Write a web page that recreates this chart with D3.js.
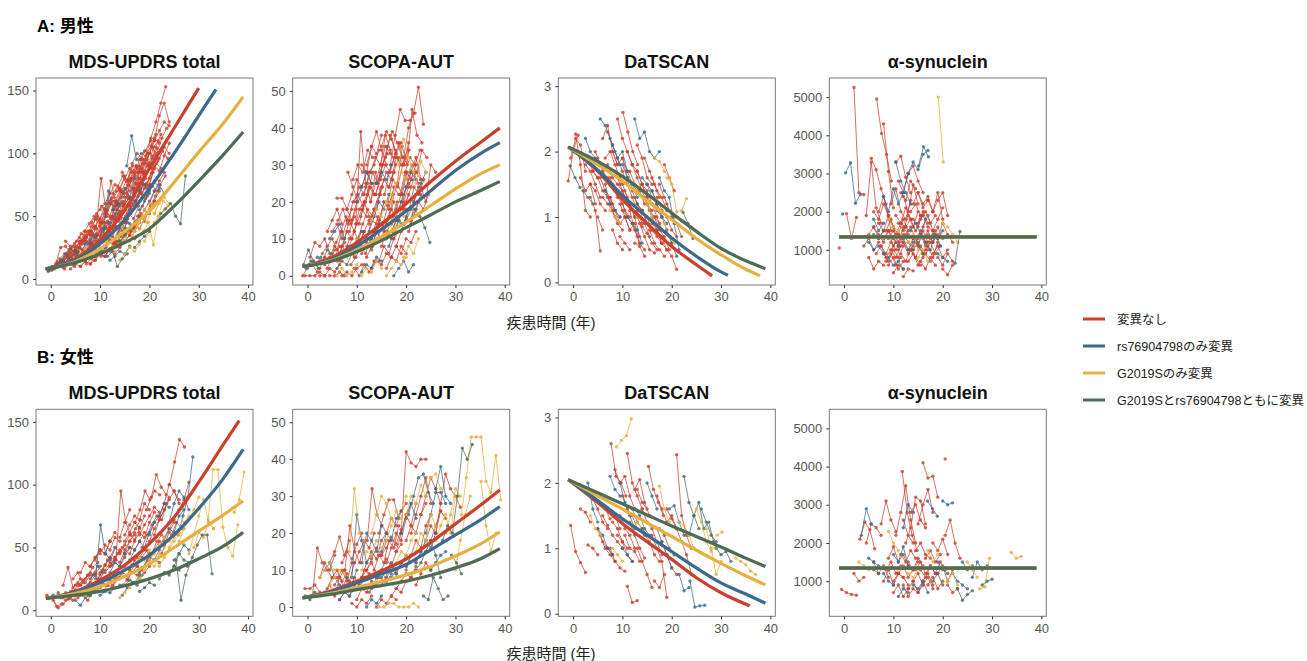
<!DOCTYPE html>
<html>
<head>
<meta charset="utf-8">
<script src="https://cdn.jsdelivr.net/npm/d3@7"></script>
<style>
body { margin: 0; background: #fff; font-family: "Liberation Sans", Arial, "Noto Sans CJK JP", sans-serif; }
.tick text { fill: #555; font-size: 13px; }
</style>
</head>
<body>
<div id="graphic"></div>
<script>
// groups and colours
const groups = ["変異なし", "rs76904798のみ変異", "G2019Sのみ変異", "G2019Sとrs76904798ともに変異"];
const colors = ["#c8412f", "#3a6b8e", "#e4b040", "#4e6b55"];
const measures = ["MDS-UPDRS total", "SCOPA-AUT", "DaTSCAN", "α-synuclein"];
const sexes = ["A: 男性", "B: 女性"];
const xLabel = "疾患時間 (年)";

const xTicks = [0, 10, 20, 30, 40];
const yTicks = [[0, 50, 100, 150], [0, 10, 20, 30, 40, 50], [0, 1, 2, 3], [1000, 2000, 3000, 4000, 5000]];

// one subject per row: [group, first visit (years), value at each yearly visit...]
const visitStep = 1;

const maleUpdrs = [
  [0,-0.8,8,10,12,15],[0,-0.5,6,9,11,14,18],[0,0.3,9,14,12,18,22,20],[0,1.0,12,25,26,20,24],
  [0,1.5,10,14,18,16,22,28],[0,2.2,15,20,18,26,30,34,38],[0,3.0,12,18,22,28,35,30,40],
  [0,3.5,20,26,22,30,38,36],[0,4.2,14,18,24,20,28,34,40],[0,5.0,25,30,38,35,42,48,55],
  [0,5.5,18,22,28,34,30,40,46,50],[0,6.3,20,30,28,36,44,50,48,60],[0,7.0,30,38,35,45,52,60,58],
  [0,7.5,22,28,35,32,40,48,55,62],[0,8.0,35,48,42,55,50,62,70],[0,8.6,25,30,38,45,40,52,60,66],
  [0,9.2,40,80,55,48,62,70,65,78],[0,9.8,28,35,32,42,50,58,64],[0,10.3,45,52,60,55,70,78,85,90],
  [0,10.8,32,40,48,46,58,64,72],[0,11.2,50,78,60,65,72,80,76,88],[0,11.9,38,45,52,60,58,70,80,85],
  [0,12.5,55,62,70,68,80,88,95],[0,13.0,42,50,48,58,66,75,82,90],[0,13.6,60,68,75,72,85,92,100,98],
  [0,14.2,48,55,65,62,72,80,90],[0,14.8,65,75,72,85,95,90,105,110],[0,15.5,52,60,70,78,74,88,96],
  [0,16.0,70,82,90,86,100,112,108],[0,16.7,58,66,75,72,85,94,102,96],[0,17.3,75,88,95,92,105,115],
  [0,18.0,62,72,80,90,86,98,108],[0,18.5,85,95,105,100,112,120],[0,17.0,70,80,92,100,110,130,140,125],
  [0,19.6,90,96,104],[0,19.3,98,112,125,140,153],[0,9.0,15,20,18,24,28,30],[0,12.0,22,28,26,34,38,42,48],
  [0,15.0,30,35,42,40,48,55],[0,6.0,10,14,12,18,22,26],[0,2.8,8,12,10,15,18],[0,11.0,18,24,30,28,36],
  [0,-0.3,7,8,10,13,16,20],[0,0.8,10,13,17,21,19,25],[0,1.8,16,20,24,22,30,33],[0,2.5,9,12,15,14,19,23,26],
  [0,3.8,22,28,33,30,38,42],[0,4.6,12,15,20,24,22,28],[0,5.2,30,36,33,42,48,45],[0,6.0,15,20,26,24,30,36],
  [0,6.8,38,44,50,47,56,62],[0,7.4,18,24,22,30,35,40],[0,8.3,45,52,58,54,64,70],[0,9.0,30,38,45,42,52,58,62],
  [0,10.0,55,60,68,75,72,82],[0,10.6,22,30,28,36,42,48],[0,11.6,60,68,74,82,78,90],
  [0,12.2,35,42,40,50,56,62,70],[0,13.3,28,34,40,38,46,52],[0,14.0,72,80,88,84,95,102],
  [0,15.2,45,52,60,68,64,75],[0,16.3,80,90,85,98,106,115],[0,17.0,40,48,55,52,62,70],
  [0,18.2,95,102,110,98],[0,19.0,55,62,70,78,85],[0,20.0,75,88,96,105,100],[0,21.0,110,118,125,122],
  [0,8.0,12,15,20,18,24],[0,13.0,20,25,30,35,32],[0,3.0,30,26,22,28,32],
  [0,4.0,8,12,10,14,18],[0,5.8,25,22,28,34,30],[0,7.2,12,16,20,18,25,30],[0,9.5,50,45,55,62,58],
  [0,11.5,28,34,30,38,45,42],[0,13.8,38,45,52,48,58],[0,14.5,85,78,92,100,96],[0,16.0,35,42,50,46,55,62],
  [0,17.6,50,58,66,74,70],[0,18.4,68,76,84,92,88],[0,20.2,58,66,75,82],[0,12.8,65,72,68,78,86],
  [0,10.0,35,42,38,48,54],[0,15.8,60,68,76,84,92],
  [1,-0.5,7,9,12,15],[1,1.5,10,12,16,14,20],[1,4.0,15,22,20,28,32],[1,7.0,20,28,34,30,40,45],
  [1,9.7,30,40,70,55,60],[1,11.0,25,35,32,40,48,44],[1,13.0,50,60,72,65,80],[1,15.0,40,55,62,70,75,68],
  [1,15.4,90,114,95,100],[1,18.0,55,62,70,78,72],[1,20.0,60,70,75,68],[1,12.0,15,18,22,20,26],
  [1,14.0,30,34,40,38,45],
  [2,4.0,12,16,20,24],[2,8.0,18,24,22,30,35],[2,10.5,25,30,36,34,42],[2,13.0,22,28,34,30,38,45],
  [2,15.0,30,40,38,48,55,60],[2,16.5,35,42,50,45,58],[2,18.0,40,48,56,52,62],[2,19.0,30,38,45,50,55],
  [2,18.8,38,45,27,50,62,58],[2,14.0,15,20,25,22,28],[2,21.0,52,60,65,60],
  [3,-0.8,8,7,9,12],[3,2.0,15,20,24,22],[3,9.0,18,22,26,30],[3,11.5,18,22,10,16,20],
  [3,17.0,25,30,34,38],[3,22.3,52,56,60,50,44,82],[3,14.0,30,35,40,45,50]
];

const maleScopa = [
  [0,-1.0,0,2,3,1],[0,-0.5,0,0,0,1,0],[0,0.5,5,9,8,10,6],[0,1.5,3,2,5,4,7],[0,2.5,0,0,2,1,3],
  [0,3.0,6,8,10,7,12],[0,4.0,2,5,4,8,6,10],[0,5.0,12,14,10,15,18],[0,6.0,21,21,18,15,20],
  [0,6.5,4,6,8,5,9,12],[0,7.5,10,15,12,18,20,16],[0,8.2,28,24,20,22,25],[0,9.0,6,9,12,10,15,14],
  [0,9.8,14,39,25,20,28,22],[0,10.5,8,12,15,18,14,20],[0,11.2,18,22,28,25,30,33],
  [0,12.0,5,8,12,10,14,18,15],[0,12.8,20,25,30,38,34,30],[0,13.5,12,15,20,18,24,22],
  [0,14.2,25,30,35,39,36,32],[0,15.0,8,12,10,16,20,18],[0,15.6,22,28,32,36,30,34],
  [0,16.2,15,20,25,22,28,26],[0,16.8,30,38,45,42,42,44],[0,17.5,10,15,18,22,20,24],
  [0,18.2,25,35,30,45,38,36],[0,19.0,18,24,28,32,26],[0,19.5,32,40,44,51,41],[0,20.5,12,16,20,18,22],
  [0,21.0,15,22,24,20,30,28],[0,13.0,2,4,3,6,5],[0,7.0,0,1,0,2,3],[0,17.0,5,8,6,10,9,12],
  [0,11.0,30,28,35,33,38],[0,4.5,0,0,1,0],[0,9.5,2,0,3,1,4],
  [0,5.5,5,8,6,10,12,9],[0,6.2,15,18,14,20,22,19],[0,7.0,8,12,10,14,18,16],[0,8.0,18,22,26,24,28,25],
  [0,8.8,3,5,8,6,10,12],[0,9.5,20,24,22,28,30,34],[0,10.2,10,14,18,16,20,24],[0,11.0,6,9,7,12,14,11],
  [0,11.8,24,28,32,30,35,33],[0,12.5,14,18,22,26,24,28],[0,13.2,8,10,14,12,16,20],
  [0,14.0,18,24,28,26,32,30],[0,14.8,28,32,38,34,30],[0,15.5,12,16,20,18,22,25],[0,16.3,20,26,24,30,34],
  [0,17.0,14,18,22,28,26,30],[0,18.0,8,12,16,14,18,22],[0,18.8,22,28,32,30,34],[0,19.6,14,18,24,22,26],
  [0,20.2,26,30,28,34,32],[0,12.0,30,35,39,34,30],[0,4.0,12,15,18,14],[0,15.0,35,39,37,33,36],
  [0,16.0,2,5,4,8,6],
  [0,3.5,3,5,8,6,9],[0,5.8,9,12,16,14,18],[0,8.5,12,16,14,20,24,22],[0,10.8,16,20,24,22,27],
  [0,12.3,8,12,16,14,19,22],[0,14.5,4,8,6,10,12],[0,16.5,24,28,32,30,36],[0,18.5,16,20,24,28,25],
  [0,20.0,20,24,28,26],[0,13.8,22,26,30,28,33],[0,9.2,26,30,28,34,32],
  [1,-0.3,2,4,3,5],[1,4.5,10,12,14,10],[1,7.0,5,8,6,10,12],[1,10.0,20,24,28,25],[1,12.5,12,16,20,18,22],
  [1,14.0,25,28,26,30],[1,16.5,8,12,15,14,18],[1,17.5,0,2,4,1,3],[1,19.0,20,24,28,26],
  [1,20.0,15,18,22,25,28],[1,11.0,1,3,2,5,4],
  [2,6.0,0,2,0,1,3],[2,8.0,5,8,10,7],[2,11.0,0,2,1,4,2],[2,13.0,15,18,16,20,22],[2,15.5,10,14,12,18,16],
  [2,17.0,20,25,28,26,30],[2,18.5,30,37,32,28],[2,19.5,5,8,6,10],[2,16.0,0,2,4,3,5],[2,22.0,25,31,28],
  [3,-0.8,3,7,4,2],[3,2.0,5,4,7,6],[3,12.0,8,10,12,14],[3,16.0,10,12,15,14],[3,20.8,15,18,16,13,9],
  [3,6.0,2,4,3,6]
];

const maleDat = [
  [0,-1.0,1.55,2.0,2.25],[0,-0.5,1.9,2.2,2.1,1.7],[0,0.5,2.27,1.8,1.1,1.0],[0,1.5,1.6,1.4,1.5,1.2],
  [0,2.5,1.8,1.7,1.5,1.3],[0,3.5,1.3,1.1,0.48],[0,4.5,2.0,1.8,1.6,1.5],[0,5.5,1.6,1.4,1.3,1.1,1.0],
  [0,6.0,2.2,2.4,2.0,1.8],[0,6.5,1.5,1.2,1.0,0.9],[0,7.0,2.3,2.1,1.9,1.7,1.5],[0,7.5,1.3,1.1,0.9,1.0,0.8],
  [0,8.0,2.0,1.8,1.9,1.6],[0,8.5,1.7,1.5,1.3,1.2,1.0],[0,9.0,2.5,2.2,2.0,1.8],[0,9.5,1.2,1.0,0.8,0.9,0.6],
  [0,10.0,1.9,1.7,1.5,1.4],[0,10.1,2.6,2.3,2.0,1.8],[0,11.0,1.5,1.3,1.1,0.9],[0,11.5,1.1,0.8,0.6,0.5],
  [0,12.0,1.8,1.6,1.4,1.2,1.1],[0,12.5,1.3,1.1,0.9,0.7],[0,13.0,2.1,1.9,1.6,1.5],[0,13.5,0.9,0.7,0.5,0.45],
  [0,14.0,1.5,1.3,1.2,1.0,0.8],[0,14.5,1.9,1.7,1.5,1.3],[0,15.0,1.2,1.0,0.8,0.6],[0,15.5,0.8,0.6,0.5,0.4],
  [0,16.0,1.6,1.4,1.3,1.1],[0,16.5,1.0,0.8,0.7,0.5],[0,17.0,1.3,1.1,1.0,0.8,0.7],[0,18.0,0.7,0.5,0.4,0.2],
  [0,18.5,1.8,1.6,1.4],[0,19.0,1.2,1.0,0.9,0.7],[0,8.0,0.8,0.6,0.5],[0,5.0,1.0,0.8],
  [0,3.0,1.9,1.7,1.6],[0,10.5,1.4,1.2,1.0,0.7],
  [0,4.0,1.7,1.6,1.4,1.3,1.2],[0,5.0,1.9,1.7,1.6,1.5],[0,6.0,1.3,1.2,1.1,0.9,0.8],[0,7.0,1.8,1.6,1.5,1.4,1.2],
  [0,8.0,1.5,1.3,1.2,1.0],[0,9.0,1.6,1.5,1.3,1.1,1.0],[0,10.0,1.1,1.0,0.9,0.7],[0,11.0,2.0,1.8,1.7,1.5,1.3],
  [0,12.0,1.4,1.2,1.1,0.9,0.8],[0,13.0,1.7,1.5,1.4,1.2],[0,14.0,1.1,1.0,0.8,0.7,0.6],[0,15.0,1.5,1.4,1.2,1.0],
  [0,16.0,0.9,0.8,0.6,0.5],[0,17.0,1.1,1.0,0.8,0.6],[0,9.5,0.7,0.6,0.5],[0,6.5,1.9,2.0,1.8,1.6],
  [0,12.5,0.6,0.55,0.4],[0,13.0,1.0,0.85,0.75,0.6,0.5],
  [0,3.5,1.5,1.4,1.2,1.1],[0,7.5,1.6,1.4,1.3,1.1,1.0],[0,11.5,1.7,1.5,1.4,1.2],[0,14.5,1.3,1.1,1.0,0.9],
  [0,17.5,1.5,1.3,1.1,1.0],
  [1,2.5,2.2,2.0,1.9],[1,5.5,2.5,2.4,2.2,2.0,1.8],[1,8.0,2.1,1.9,2.0,1.7],[1,10.0,1.8,1.6,1.5,1.3],
  [1,12.5,2.5,2.2,2.3,2.0,1.9,2.0],[1,14.0,1.6,1.5,1.3,1.2],[1,16.0,1.4,1.2,1.0,0.9],
  [1,17.5,1.6,1.4,1.3,0.9,0.5],[1,6.5,1.4,1.2,1.1,1.0],[1,19.0,0.8,0.6,0.4],[1,11.0,1.0,0.9,0.8,0.6],
  [2,7.5,1.1,1.0,0.9],[2,10.0,1.3,1.2,1.1,1.0],[2,16.5,1.9,1.85,1.7,1.6],[2,19.0,1.6,1.5,1.08,1.1,1.28],
  [2,13.0,1.4,1.3,1.2,1.0],[2,18.5,0.9,0.7,0.6],
  [3,-0.6,1.78,1.6,1.45],[3,2.0,1.4,1.3,1.2],[3,22.3,1.07,0.9,0.67],[3,13.0,1.2,1.1,0.9]
];

const maleSyn = [
  [0,-1.0,1050],[0,0.5,1950,1300,1850],[0,2.0,5250,2500,2450],[0,4.5,1900,3300,2100,1700],
  [0,5.5,3400,3100,2600,2200,1500],[0,6.6,4950,4050,3500,2800],[0,8.0,4300,3050,2100],
  [0,5.0,800,500,700,600],[0,6.0,1600,1400,1200,1500,1300],[0,7.0,2000,2400,1800,1600],
  [0,7.5,1100,900,1200,1000,1300],[0,8.5,1500,1800,1400,1700,1600],[0,9.0,600,800,500,700],
  [0,9.5,2200,2600,2000,1800,2300],[0,10.0,1300,1100,1400,1200,1000],[0,10.5,3300,3450,2900,2500],
  [0,11.0,1700,1500,1900,1600,2000],[0,11.5,900,700,1000,800,600],[0,12.0,2400,2000,2700,2200],
  [0,12.5,1400,1600,1300,1500,1200],[0,13.0,3000,3200,2800,2500],[0,13.5,1000,800,1100,900,700],
  [0,14.0,1800,1600,2000,1700],[0,14.5,1200,1400,1100,1300,1500],[0,15.0,2500,2200,2400,2000],
  [0,15.5,700,500,800,600],[0,16.0,1600,1900,1500,1800,2100],[0,16.5,1000,1200,900,1100],
  [0,17.0,2300,2000,2500,1800],[0,18.0,1500,1300,1700,1400,1200],[0,19.0,800,600,900,700],
  [0,20.0,500,350,600],[0,10.0,400,600,500],[0,12.0,300,500,450],[0,8.0,1300,1500,1100,1400],
  [0,5.0,1400,1600,1300,1500],[0,6.5,900,1100,800,1000,1200],[0,7.0,1700,1500,1900,1600],
  [0,8.5,700,900,600,800],[0,9.0,1300,1500,1200,1600,1400],[0,10.5,1900,1700,2100,1800],
  [0,11.0,1000,1200,900,1100,1300],[0,12.5,1600,1800,1500,1900],[0,13.0,700,900,600,800,1000],
  [0,14.0,1300,1100,1500,1200],[0,15.0,1700,1900,1600,1500],[0,16.0,900,1100,800,1200],
  [0,17.0,1400,1200,1600,1300],[0,18.0,2000,2300,2500,1900],[0,11.5,2500,2300,2800,2600],
  [0,9.5,1000,800,1100],[0,13.5,2000,2200,1900],
  [0,4.0,1100,1300,1000,1200],[0,6.0,2000,1800,2200,1900],[0,8.0,900,700,1000,800,1100],
  [0,10.0,1600,1400,1800,1500],[0,12.0,1200,1000,1300,1100,900],[0,14.0,2200,2500,2100,2300],
  [0,16.0,1300,1500,1200,1400],[0,18.0,900,1100,800,1000],[0,11.0,2800,2500,3000],
  [0,15.5,1800,2000,1700,1900],
  [1,-0.3,1940],[1,0.3,3020,3280,2220,2450],[1,5.0,1200,1000,1100,900],[1,8.0,2400,2000,2600,2200,2500],
  [1,10.5,3300,2800,2500,2200],[1,12.0,2500,3000,3300,3100,3500,3600],[1,13.5,1500,1700,1400,1800],
  [1,15.1,3200,3700,3440],[1,9.0,800,600,700,500],[1,11.0,1100,1300,1000,1200],
  [1,16.5,1200,1000,1400,1100],[1,18.0,1400,1300,1500],[1,19.0,900,800,700],[1,6.0,1800,1500,1700],
  [2,19.1,5000,3300],[2,9.0,1800,1600,1500],[2,13.0,1200,1400,1000],[2,20.0,1700,1600,1400,1200],
  [2,15.0,800,1000,700],
  [3,22.5,650,1480],[3,6.0,1400,1300,1500],[3,14.0,1000,1200,900]
];

const femaleUpdrs = [
  [0,-0.8,12,10,3,5],[0,0.5,8,2,5,9,8],[0,1.5,14,10,12,15],[0,2.5,20,34,18,22],[0,3.5,12,15,20,24,28],
  [0,4.5,25,30,22,28,34,38],[0,5.5,10,14,12,18,22],[0,6.0,30,38,35,42,48],[0,7.0,18,22,28,25,32,38],
  [0,8.0,35,42,48,45,55],[0,8.5,15,18,22,20,26,30],[0,9.5,25,32,40,36,45,50],[0,10.0,45,52,48,58,55],
  [0,11.0,30,35,42,38,48,55,60],[0,12.0,55,62,58,70,80],[0,12.5,20,25,30,28,36,42],
  [0,13.2,40,95,70,60,65,72],[0,14.0,35,42,50,48,55,62],[0,15.0,60,68,75,72,85,80],
  [0,15.5,25,30,35,32,40,45],[0,16.0,45,55,62,58,70,78],[0,17.1,70,80,95,88,95,92],
  [0,17.5,35,42,48,45,55,60],[0,18.5,50,60,68,75,72,85],[0,19.4,80,90,108,98,92],
  [0,20.0,40,48,55,52,62,70],[0,21.0,60,72,80,88,95,85],[0,22.0,75,85,100,95,88],
  [0,23.0,55,65,72,80,88,102],[0,24.1,100,118,136,130],[0,10.5,15,20,18,25,30],[0,6.5,12,8,15,18,20],
  [0,18.0,25,30,35,40,38],[0,22.5,45,55,60,70,65],[0,3.0,8,10,14,12],[0,14.5,20,24,30,28,34],
  [0,2.0,10,14,12,16,20],[0,4.0,15,20,25,22,28],[0,6.0,20,25,30,28,35],[0,8.0,25,30,28,36,42,40],
  [0,10.0,30,36,42,50,46],[0,12.0,35,42,48,45,55,62],[0,14.0,45,52,60,56,66],[0,16.0,30,36,42,48,45],
  [0,18.0,60,68,75,82,78],[0,20.0,55,65,72,80,90],[0,9.0,40,48,45,55],[0,13.0,25,30,35,32,40],
  [0,15.0,55,62,70,65,75],[0,11.0,20,24,28,26,32],
  [1,5.0,8,4,10,12],[1,7.5,20,28,35,30],[1,9.1,25,68,45,40,50],[1,12.0,30,38,35,45,50],
  [1,14.5,12,18,22,20,28],[1,16.0,40,48,55,50,62,70],[1,18.0,30,35,42,40,48],[1,20.0,60,70,75,85,82],
  [1,22.0,50,58,65,62,75,80],[1,24.0,70,85,95,90,80],[1,25.8,60,75,90,122],[1,10.0,12,15,14,18,20],
  [1,25.0,40,45,52,48],
  [2,5.0,10,14,12,16],[2,9.0,15,20,24,22,28],[2,12.0,22,28,25,32,38],[2,14.0,10,14,18,22,26],
  [2,16.0,30,36,42,40,48],[2,18.0,25,32,38,35,45,50],[2,20.0,40,45,52,58,55],[2,22.0,35,42,48,55,60,65],
  [2,24.0,50,58,62,70,75],[2,26.0,55,65,72,80,90],[2,28.0,45,60,75,88,70,65],
  [2,31.9,72,112,112,66,50,43,68],[2,37.2,78,88,110],[2,29.0,50,62,58,70,65],
  [3,-0.5,10,12,11],[3,8.0,12,15,18],[3,15.0,20,24,22,28],[3,22.0,25,30,28,35,32],
  [3,24.0,30,35,45,40,38],[3,25.4,40,8,28,38],[3,27.7,35,42,52,60,60,29],[3,18.0,15,18,22,20]
];

const femaleScopa = [
  [0,-0.5,5,5,6,4],[0,1.0,3,16,12,10,8],[0,2.5,8,12,10,14],[0,3.5,4,6,3,8,5],[0,4.5,12,15,19,14,18],
  [0,5.5,6,8,10,7,12],[0,6.5,2,4,3,6,5,8],[0,7.6,10,22,15,12,18],[0,8.5,5,8,6,10,9],
  [0,9.5,12,15,18,16,20],[0,10.0,2,5,4,7,6],[0,11.0,8,12,15,13,18,20],[0,12.1,18,32,25,22,20],
  [0,12.5,4,6,8,7,10],[0,13.5,10,14,12,18,16,22],[0,14.5,20,25,29,29,24],[0,15.0,6,8,10,9,12,14],
  [0,16.0,12,16,20,18,24,28],[0,17.0,3,5,4,7,8],[0,18.0,15,20,25,22,28],[0,19.0,20,42,39,38,40,40],
  [0,20.0,10,14,18,16,22,25],[0,21.0,20,25,30,35,28],[0,22.0,12,15,18,22,20,26],
  [0,23.0,25,30,35,32,28],[0,24.0,15,18,22,26,24],[0,26.0,20,28,36,32,30,27],[0,9.0,1,0,2,1,3],
  [0,14.0,0,2,1,3,2],[0,6.0,8,10,7,12],
  [0,4.0,5,8,10,7,9],[0,7.0,12,15,13,17,20],[0,10.0,5,8,10,12,9],[0,12.0,10,13,16,14,18],
  [0,14.0,8,10,13,11,15,17],[0,16.0,20,24,22,26,28],[0,18.0,5,7,9,8,11],[0,20.0,18,22,20,25,28],
  [0,22.0,6,9,12,10],[0,15.0,14,16,19,17,21],
  [1,3.5,10,12,8,6],[1,6.5,2,4,3,5],[1,9.0,8,25,18,12,14],[1,11.0,12,20,18,15,22],[1,13.0,5,8,10,7,9],
  [1,15.0,15,20,18,24,26],[1,17.0,8,10,12,11,14],[1,19.0,20,25,28,24],[1,20.5,25,30,35,36,31,28],
  [1,22.0,12,15,18,16,20],[1,24.0,20,25,31,31,28],[1,26.0,32,38,30,28],[1,12.0,0,2,1,3],
  [1,25.0,10,12,14,15],
  [2,2.5,8,10,12,10],[2,4.5,6,8,10,9],[2,8.5,15,32,20,18],[2,11.0,10,15,14,18,16],
  [2,13.0,20,25,30,28,24],[2,14.5,0,0,1,1,0,0,0,1,0],[2,16.0,18,22,26,24,30],[2,18.0,12,15,14,18,20],
  [2,20.0,25,30,28,33,30],[2,22.0,15,20,18,25,22],[2,24.0,30,35,36,32],[2,26.0,18,22,25,20,30],
  [2,28.0,20,25,32,30],[2,30.0,10,18,25,30],[2,31.2,25,35,46,46,46,34,31,41,29],[2,35.2,34,22,15,20],
  [3,-0.5,3,2,4],[3,7.0,5,8,6,10],[3,15.0,8,10,12,9],[3,22.0,10,12,15,18,14,8],
  [3,23.5,3,2,8,5,2,3],[3,27.4,18,22,20,30,43,40,44],[3,29.2,14,12,9]
];

const femaleDat = [
  [0,-0.5,1.35,0.95,0.78,0.63],[0,1.5,1.6,1.55,1.4],[0,3.0,1.05,1.0,0.9],[0,4.0,1.75,1.6,1.4,1.3],
  [0,5.0,1.3,1.1,1.0,0.9],[0,6.0,1.5,1.35,1.2,1.1,1.0],[0,7.7,2.6,2.1,2.0,1.8],[0,7.5,1.0,0.8,0.7,0.65],
  [0,8.5,2.2,2.0,2.1,1.8,1.6],[0,9.0,1.2,1.1,0.9,0.8],[0,10.0,1.8,1.6,1.5,1.3],[0,11.0,0.42,0.17,0.2],
  [0,11.0,2.45,2.0,1.8,1.6],[0,11.5,1.4,1.2,1.0,0.85],[0,12.5,1.9,2.05,1.7,1.5],[0,13.0,1.0,0.8,0.6,0.4],
  [0,14.0,1.6,1.4,1.3,1.1,0.9],[0,15.3,2.25,1.9,1.7,1.5],[0,16.0,1.2,1.0,0.8,0.25],
  [0,17.0,1.8,1.6,1.4,1.5,1.3],[0,18.0,1.1,0.9,0.7,0.6],[0,19.0,1.6,1.45,1.3],[0,21.0,2.43,1.5,1.2,1.0],
  [0,21.0,1.3,1.1,0.9,0.6],[0,16.5,0.5,0.4,0.6],[0,6.5,1.6,1.45,1.5,1.3],[0,9.5,1.5,1.3,1.2,1.0],
  [0,5.5,1.2,1.0,0.9,0.8],[0,8.0,1.4,1.3,1.1,1.0],[0,10.5,1.2,1.0,0.95,0.8],[0,12.0,1.6,1.4,1.3,1.2],
  [0,14.5,1.2,1.1,0.9,0.8],[0,17.5,1.3,1.2,1.0,0.9],[0,13.0,1.9,1.7,1.6],
  [1,3.0,2.0,1.6,1.4],[1,7.5,2.1,1.9,1.8],[1,9.5,2.0,1.7,1.5,1.3],[1,12.5,1.6,1.5,1.3,1.2],
  [1,15.0,2.0,1.8,1.6],[1,17.0,1.3,1.1,0.9,0.7],[1,19.5,1.6,1.65,1.4,1.2],[1,21.5,0.6,0.35,0.4],
  [1,23.5,1.2,1.5,1.7,1.3,1.4,1.1],[1,23.7,0.5,0.1,0.12,0.13],[1,10.0,1.0,0.9,0.8],[1,5.0,1.3,1.2,1.0,0.9],
  [2,8.8,2.55,2.65,2.72,2.98],[2,3.5,1.5,1.3,1.2],[2,8.0,1.0,0.9,0.8],[2,13.0,1.4,1.3,1.2,1.05],
  [2,17.5,1.95,1.6,1.4],[2,21.5,1.4,1.35,1.2,1.0],[2,25.0,1.6,1.4,1.1,0.95,1.05],[2,29.2,1.2,1.25],
  [2,33.0,0.85,0.8,0.75,0.65,0.6],[2,27.0,1.3,1.0,0.6,0.8],
  [3,22.5,2.1,1.7,1.5,1.3],[3,26.0,1.6,1.4,1.2,1.1],[3,29.0,1.0,0.9,0.95,0.8],[3,14.0,1.3,1.2]
];

const femaleSyn = [
  [0,-0.5,780,700,650,630],[0,2.0,1200,1000,1100],[0,3.2,2100,2550,2350,1850],
  [0,4.5,2000,2500,2400,2200],[0,6.0,1500,1200,1400,1100],[0,7.5,2500,3100,2600,2300],
  [0,8.0,1000,1300,900,1200,1100],[0,9.0,1600,1900,1500,1700,1400],[0,10.0,700,900,600,800],
  [0,10.5,2200,2800,3500,2600,2000],[0,11.0,1200,1400,1100,1300,1500],[0,11.8,3870,2800,2200,1800],
  [0,12.0,900,600,800,700,1000],[0,12.5,2000,2400,3200,3100,2500],[0,13.0,1500,1300,1600,1400],
  [0,13.5,2800,3000,2600,2400],[0,14.0,1000,1200,900,1100,800],[0,14.5,1800,2000,1700,1600],
  [0,15.0,2500,3000,3400,2800],[0,15.5,1300,1100,1400,1200],[0,16.0,4100,3700,3750,3200],
  [0,16.5,1600,1800,1500,1700],[0,17.0,900,1100,800,1000],[0,18.0,2000,1800,2100,1700],
  [0,19.0,1200,1400,1000,1300],[0,20.5,4200],[0,20.5,2200,2600,2000,1600],[0,21.0,900,700,800],
  [0,8.5,1300,1500,1200,1400],[0,10.0,1000,1200,1100,900],[0,11.5,1700,1500,1800,1600],
  [0,13.0,800,1000,700,900],[0,14.5,1300,1500,1200,1400],[0,16.0,1000,1200,900],
  [0,17.5,1400,1200,1500,1300],[0,12.0,2600,2200,2000],
  [1,3.5,2200,2900,2500],[1,5.0,1600,1500,1400],[1,8.0,1200,1000,900],[1,10.0,1700,1500,1900,1400],
  [1,12.0,2400,3000,2800],[1,14.0,900,800,1000,700],[1,16.9,3100,2900,2700],[1,19.0,1500,1300,1200],
  [1,20.0,3100,3000,3050],[1,22.0,1200,1000,900,800],[1,24.0,1500,1300,1400],
  [1,26.0,1100,1500,1300,1400],[1,11.0,600,800,700],
  [2,3.0,1500,1400,1300],[2,9.0,2300,2000,1800],[2,13.0,1200,1100,1300],[2,17.0,1800,1500,1700],
  [2,21.0,1000,1200,900],[2,25.0,1500,1300,1100],[2,27.5,800,850,1600],[2,33.9,1750,1600,1650],
  [3,23.0,800,500,650,750],[3,18.0,1000,1200,900],[3,28.0,900,1000,1050],[3,6.0,1300,1200]
];

// fitted group curves, [years, value]
const maleUpdrsFit = [
  [[-1,8],[5,16],[10,31],[15,55],[20,88],[25,120],[30,152]],
  [[-1,8],[5,15],[10,28],[15,47],[20,72],[25,100],[30,130],[33.5,151]],
  [[-1,8],[5,14],[10,24],[15,38],[20,54],[25,77],[30,101],[35,124],[39,145]],
  [[-1,8],[5,13],[10,20],[15,29],[20,40],[25,58],[30,78],[35,99],[39,117]]
];
const maleScopaFit = [
  [[-1,2.5],[5,5],[10,9],[15,14],[20,19.5],[25,25.5],[30,31],[35,36],[39,40]],
  [[-1,2.5],[5,4.5],[10,8],[15,12.5],[20,17.5],[25,23],[30,28.5],[35,33],[39,36]],
  [[-1,2.5],[5,4.2],[10,7],[15,10.5],[20,14.5],[25,19],[30,23.5],[35,27.5],[39,30]],
  [[-1,2.5],[5,4],[10,6.5],[15,9.5],[20,13],[25,16.5],[30,20],[35,23],[39,25.5]]
];
const maleDatFit = [
  [[-1,2.07],[5,1.7],[10,1.27],[15,0.9],[20,0.55],[25,0.27],[28.2,0.1]],
  [[-1,2.07],[5,1.72],[10,1.33],[15,1.0],[20,0.68],[25,0.4],[30,0.16],[31.4,0.11]],
  [[-1,2.07],[5,1.8],[10,1.55],[15,1.25],[20,0.96],[25,0.67],[30,0.42],[35,0.2],[37.9,0.1]],
  [[-1,2.07],[5,1.85],[10,1.62],[15,1.35],[20,1.06],[25,0.78],[30,0.52],[35,0.33],[39,0.21]]
];
const maleSynFit = [
  [[-1,1340],[39,1340]], [[-1,1340],[39,1340]], [[-1,1340],[39,1340]], [[-1,1340],[39,1340]]
];
const femaleUpdrsFit = [
  [[-1,9.5],[5,15],[10,24],[15,36],[20,53],[25,74],[30,102],[35,132],[38.2,151]],
  [[-1,9.5],[5,14.5],[10,22],[15,32],[20,44],[25,60],[30,81],[35,105],[39,128]],
  [[-1,9.5],[5,13.5],[10,19],[15,27],[20,37],[25,50],[30,63],[35,76],[39,87]],
  [[-1,9.5],[5,12],[10,15],[15,19.5],[20,25],[25,32],[30,41],[35,51],[39,62]]
];
const femaleScopaFit = [
  [[-1,2.5],[5,4.5],[10,7],[15,9.8],[20,13],[25,17.5],[30,22.5],[35,27.5],[39,31.7]],
  [[-1,2.5],[5,4.2],[10,6.5],[15,9],[20,11.5],[25,15.5],[30,19.5],[35,23.5],[39,27.2]],
  [[-1,2.5],[5,3.8],[10,5.3],[15,6.9],[20,8.7],[25,11],[30,13.8],[35,17],[39,20.3]],
  [[-1,2.5],[5,3.5],[10,4.7],[15,5.8],[20,7],[25,8.6],[30,10.6],[35,13],[39,15.8]]
];
const femaleDatFit = [
  [[-1,2.05],[5,1.7],[10,1.38],[15,1.1],[20,0.83],[25,0.55],[30,0.32],[35.8,0.12]],
  [[-1,2.05],[5,1.73],[10,1.45],[15,1.2],[20,0.95],[25,0.7],[30,0.47],[35,0.3],[39,0.16]],
  [[-1,2.05],[5,1.8],[10,1.6],[15,1.39],[20,1.18],[25,0.97],[30,0.77],[35,0.58],[39,0.44]],
  [[-1,2.05],[5,1.85],[10,1.68],[15,1.51],[20,1.34],[25,1.18],[30,1.02],[35,0.85],[39,0.72]]
];
const femaleSynFit = [
  [[-1,1340],[39,1340]], [[-1,1340],[39,1340]], [[-1,1340],[39,1340]], [[-1,1340],[39,1340]]
];

const panels = [[maleUpdrs, maleScopa, maleDat, maleSyn], [femaleUpdrs, femaleScopa, femaleDat, femaleSyn]];
const fits = [[maleUpdrsFit, maleScopaFit, maleDatFit, maleSynFit], [femaleUpdrsFit, femaleScopaFit, femaleDatFit, femaleSynFit]];

// layout
const W = 1307, H = 661;
const boxLeft = [36, 292.7, 558.3, 829.3], boxW = 217;
const rowTop = [78, 409.3], boxH = 207;
const yDomains = [[-4.8, 160], [-2.5, 53.5], [-0.04, 3.125], [80, 5500]];

const svg = d3.select("#graphic").append("svg")
  .attr("width", W).attr("height", H);

function visits(d) {
  return d.slice(2).map((v, i) => [d[1] + i * visitStep, v]);
}

for (let r = 0; r < 2; r++) {
  svg.append("text")
    .attr("x", 37).attr("y", rowTop[r] - 46)
    .attr("font-size", 17).attr("font-weight", "bold")
    .attr("font-family", "'Liberation Sans', 'Noto Sans CJK JP', sans-serif")
    .text(sexes[r]);

  for (let c = 0; c < 4; c++) {
    const x0 = boxLeft[c], y0 = rowTop[r];
    const g = svg.append("g");
    const xScale = d3.scaleLinear().domain([-3, 41]).range([x0, x0 + boxW]);
    const yScale = d3.scaleLinear().domain(yDomains[c]).range([y0 + boxH, y0]);

    const clipId = "clip" + r + c;
    g.append("clipPath").attr("id", clipId)
      .append("rect").attr("x", x0).attr("y", y0).attr("width", boxW).attr("height", boxH);

    g.append("text")
      .attr("x", x0 + boxW / 2).attr("y", y0 - 10)
      .attr("text-anchor", "middle")
      .attr("font-size", 18).attr("font-weight", "bold").attr("fill", "#111")
      .text(measures[c]);

    const marks = g.append("g").attr("clip-path", "url(#" + clipId + ")");
    const line = d3.line().x(p => xScale(p[0])).y(p => yScale(p[1]));

    // subjects: draw by group so that later groups sit on top
    for (let k = 0; k < 4; k++) {
      const subj = panels[r][c].filter(d => d[0] === k);
      subj.forEach(d => {
        const pts = visits(d);
        marks.append("path")
          .attr("d", line(pts))
          .attr("fill", "none")
          .attr("stroke", colors[k])
          .attr("stroke-width", 1)
          .attr("stroke-opacity", 0.75);
        marks.selectAll(null)
          .data(pts)
          .enter()
          .append("circle")
          .attr("cx", p => xScale(p[0]))
          .attr("cy", p => yScale(p[1]))
          .attr("r", 1.7)
          .attr("fill", colors[k])
          .attr("fill-opacity", 0.8);
      });
    }

    const smooth = d3.line().curve(d3.curveMonotoneX)
      .x(p => xScale(p[0])).y(p => yScale(p[1]));
    fits[r][c].forEach((f, k) => {
      marks.append("path")
        .attr("d", smooth(f))
        .attr("fill", "none")
        .attr("stroke", colors[k])
        .attr("stroke-width", 3.2);
    });

    // frame
    g.append("rect")
      .attr("x", x0).attr("y", y0).attr("width", boxW).attr("height", boxH)
      .attr("fill", "none").attr("stroke", "#7a7a7a").attr("stroke-width", 1);

    g.append("g")
      .attr("transform", "translate(0," + (y0 + boxH) + ")")
      .call(d3.axisBottom(xScale).tickValues(xTicks).tickFormat(d => d).tickSize(3).tickPadding(4))
      .call(a => a.select(".domain").remove())
      .call(a => a.selectAll("line").attr("stroke", "#333"))
      .selectAll("text").attr("font-family", "'Liberation Sans', Arial, sans-serif");

    g.append("g")
      .attr("transform", "translate(" + x0 + ",0)")
      .call(d3.axisLeft(yScale).tickValues(yTicks[c]).tickFormat(d => d).tickSize(3).tickPadding(4))
      .call(a => a.select(".domain").remove())
      .call(a => a.selectAll("line").attr("stroke", "#333"))
      .selectAll("text").attr("font-family", "'Liberation Sans', Arial, sans-serif");
  }

  svg.append("text")
    .attr("x", 551).attr("y", rowTop[r] + boxH + 43)
    .attr("text-anchor", "middle")
    .attr("font-size", 15).attr("fill", "#222")
    .attr("font-family", "'Liberation Sans', 'Noto Sans CJK JP', sans-serif")
    .text(xLabel);
}

// legend
const legend = svg.append("g").attr("transform", "translate(1083,319)");
groups.forEach((name, k) => {
  const row = legend.append("g").attr("transform", "translate(0," + (k * 27) + ")");
  row.append("line")
    .attr("x1", 0).attr("x2", 22).attr("y1", 0).attr("y2", 0)
    .attr("stroke", colors[k]).attr("stroke-width", 3);
  row.append("text")
    .attr("x", 34).attr("y", 4.5)
    .attr("font-size", 12.5).attr("fill", "#222")
    .attr("font-family", "'Liberation Sans', 'Noto Sans CJK JP', sans-serif")
    .text(name);
});
</script>
</body>
</html>
